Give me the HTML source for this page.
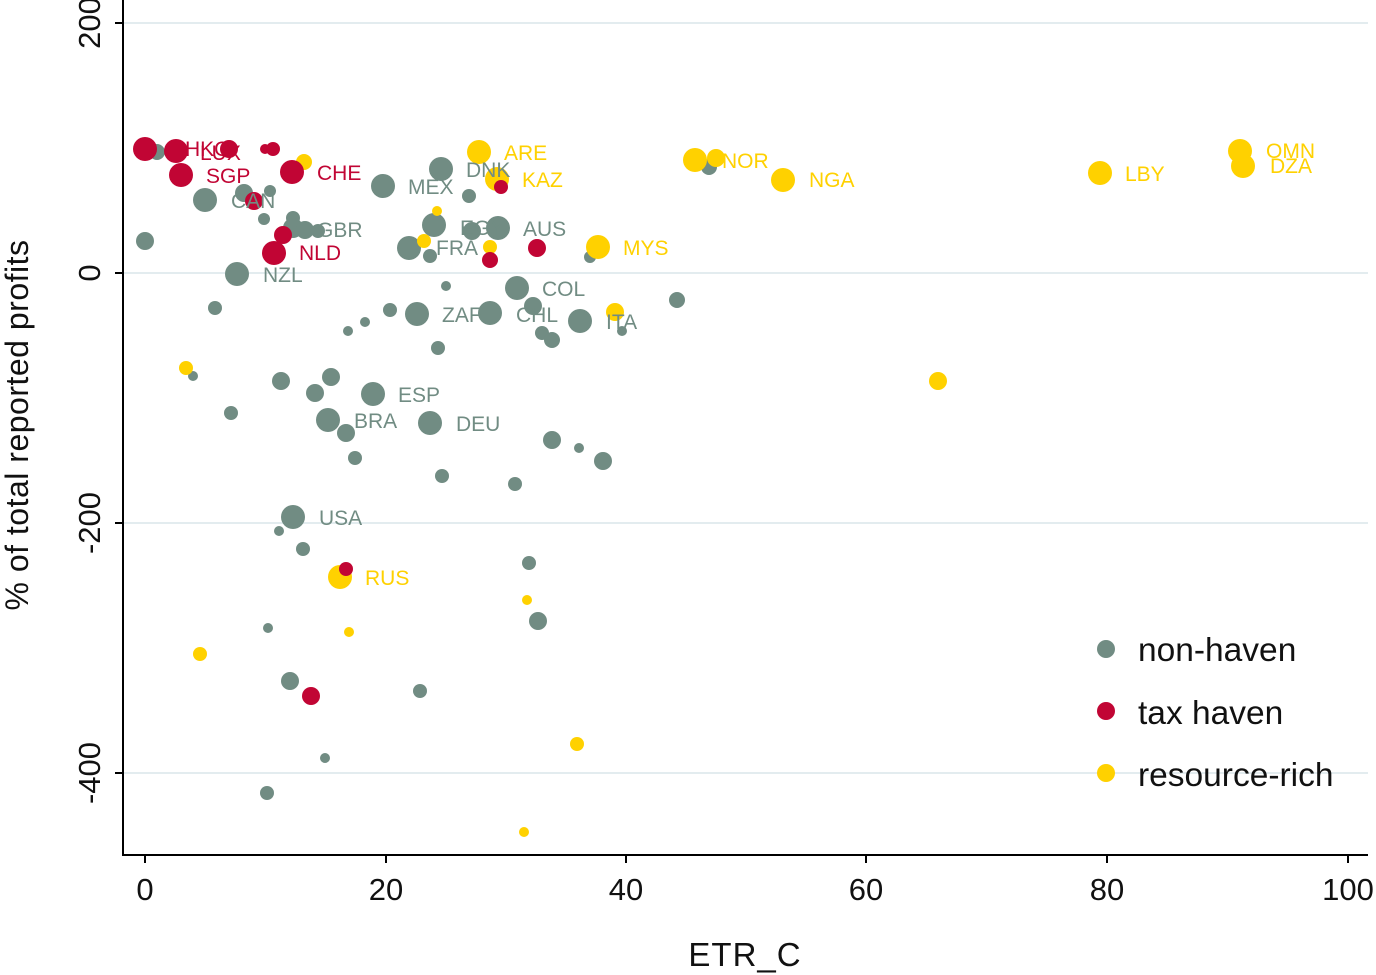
<!DOCTYPE html><html><head><style>body{margin:0;background:#fff}svg{display:block;font-family:"Liberation Sans",Arial,sans-serif}</style></head><body>
<svg width="1376" height="975" viewBox="0 0 1376 975" xmlns="http://www.w3.org/2000/svg">
<g stroke="#e3ecef" stroke-width="2"><line x1="124" y1="23" x2="1368" y2="23"/><line x1="124" y1="273" x2="1368" y2="273"/><line x1="124" y1="523" x2="1368" y2="523"/><line x1="124" y1="773" x2="1368" y2="773"/></g>
<g stroke="#000" stroke-width="2"><line x1="123" y1="0" x2="123" y2="856"/><line x1="122" y1="855" x2="1368" y2="855"/>
<line x1="115" y1="23" x2="123" y2="23"/><line x1="115" y1="273" x2="123" y2="273"/><line x1="115" y1="523" x2="123" y2="523"/><line x1="115" y1="773" x2="123" y2="773"/>
<line x1="145" y1="855" x2="145" y2="863"/><line x1="386" y1="855" x2="386" y2="863"/><line x1="626" y1="855" x2="626" y2="863"/><line x1="866" y1="855" x2="866" y2="863"/><line x1="1107" y1="855" x2="1107" y2="863"/><line x1="1348" y1="855" x2="1348" y2="863"/></g>
<g font-size="31" text-anchor="middle" fill="#111"><text x="145" y="900">0</text><text x="386" y="900">20</text><text x="626" y="900">40</text><text x="866" y="900">60</text><text x="1107" y="900">80</text><text x="1348" y="900">100</text>
<text transform="translate(100,23) rotate(-90)">200</text><text transform="translate(100,273) rotate(-90)">0</text><text transform="translate(100,523) rotate(-90)">-200</text><text transform="translate(100,773) rotate(-90)">-400</text>
<text x="745" y="966" font-size="33" letter-spacing="1">ETR_C</text><text transform="translate(28,425) rotate(-90)" font-size="32" letter-spacing="0.5">% of total reported profits</text></g>
<g fill="#718c83">
<circle cx="157" cy="152" r="8"/><circle cx="244" cy="193" r="9"/><circle cx="205" cy="200" r="12"/><circle cx="270" cy="191" r="6"/><circle cx="264" cy="219" r="6"/><circle cx="293" cy="218" r="7"/><circle cx="145" cy="241" r="9"/><circle cx="293" cy="228" r="10"/><circle cx="305" cy="230" r="9"/><circle cx="318" cy="231" r="7"/><circle cx="237" cy="274" r="12"/><circle cx="215" cy="308" r="7"/><circle cx="383" cy="186" r="12"/><circle cx="441" cy="169" r="12"/><circle cx="469" cy="196" r="7"/><circle cx="434" cy="225" r="12"/><circle cx="472" cy="231" r="9"/><circle cx="498" cy="228" r="12"/><circle cx="409" cy="248" r="12"/><circle cx="430" cy="256" r="7"/><circle cx="446" cy="286" r="5"/><circle cx="517" cy="288" r="12"/><circle cx="390" cy="310" r="7"/><circle cx="417" cy="314" r="12"/><circle cx="490" cy="313" r="12"/><circle cx="533" cy="306" r="9"/><circle cx="365" cy="322" r="5"/><circle cx="348" cy="331" r="5"/><circle cx="542" cy="333" r="7"/><circle cx="552" cy="340" r="8"/><circle cx="580" cy="321" r="12"/><circle cx="622" cy="331" r="5"/><circle cx="438" cy="348" r="7"/><circle cx="677" cy="300" r="8"/><circle cx="590" cy="257" r="6"/><circle cx="709" cy="167" r="8"/><circle cx="193" cy="376" r="5"/><circle cx="281" cy="381" r="9"/><circle cx="331" cy="377" r="9"/><circle cx="315" cy="393" r="9"/><circle cx="373" cy="394" r="12"/><circle cx="231" cy="413" r="7"/><circle cx="328" cy="420" r="12"/><circle cx="346" cy="433" r="9"/><circle cx="430" cy="423" r="12"/><circle cx="355" cy="458" r="7"/><circle cx="552" cy="440" r="9"/><circle cx="579" cy="448" r="5"/><circle cx="603" cy="461" r="9"/><circle cx="442" cy="476" r="7"/><circle cx="515" cy="484" r="7"/><circle cx="293" cy="517" r="12"/><circle cx="279" cy="531" r="5"/><circle cx="303" cy="549" r="7"/><circle cx="529" cy="563" r="7"/><circle cx="268" cy="628" r="5"/><circle cx="538" cy="621" r="9"/><circle cx="290" cy="681" r="9"/><circle cx="420" cy="691" r="7"/><circle cx="325" cy="758" r="5"/><circle cx="267" cy="793" r="7"/>
<circle cx="1106" cy="649" r="9"/></g>
<g fill="#ffd100">
<circle cx="479" cy="152" r="12"/><circle cx="497" cy="179" r="12"/><circle cx="304" cy="162" r="8"/><circle cx="287" cy="170" r="6"/><circle cx="437" cy="211" r="5"/><circle cx="424" cy="241" r="7"/><circle cx="490" cy="247" r="7"/><circle cx="598" cy="247" r="12"/><circle cx="695" cy="160" r="12"/><circle cx="716" cy="158" r="9"/><circle cx="783" cy="180" r="12"/><circle cx="1100" cy="173" r="12"/><circle cx="1240" cy="151" r="12"/><circle cx="1243" cy="166" r="12"/><circle cx="615" cy="312" r="9"/><circle cx="186" cy="368" r="7"/><circle cx="938" cy="381" r="9"/><circle cx="340" cy="577" r="12"/><circle cx="527" cy="600" r="5"/><circle cx="349" cy="632" r="5"/><circle cx="200" cy="654" r="7"/><circle cx="577" cy="744" r="7"/><circle cx="524" cy="832" r="5"/>
<circle cx="1106" cy="773" r="9"/></g>
<g fill="#c10534">
<circle cx="145" cy="149" r="12"/><circle cx="176" cy="151" r="12"/><circle cx="181" cy="175" r="12"/><circle cx="229" cy="149" r="9"/><circle cx="265" cy="149" r="5"/><circle cx="273" cy="149" r="7"/><circle cx="292" cy="172" r="12"/><circle cx="254" cy="201" r="9"/><circle cx="283" cy="235" r="9"/><circle cx="274" cy="253" r="12"/><circle cx="501" cy="187" r="7"/><circle cx="490" cy="260" r="8"/><circle cx="537" cy="248" r="9"/><circle cx="346" cy="569" r="7"/><circle cx="311" cy="696" r="9"/>
<circle cx="1106" cy="711" r="9"/></g>
<g font-size="21" fill="#718c83"><text x="408" y="194">MEX</text><text x="466" y="177">DNK</text><text x="317" y="237">GBR</text><text x="231" y="208">CAN</text><text x="263" y="282">NZL</text><text x="460" y="235">EGY</text><text x="436" y="255">FRA</text><text x="523" y="236">AUS</text><text x="542" y="296">COL</text><text x="442" y="322">ZAF</text><text x="516" y="322">CHL</text><text x="606" y="329">ITA</text><text x="398" y="402">ESP</text><text x="354" y="428">BRA</text><text x="456" y="431">DEU</text><text x="319" y="525">USA</text></g>
<g font-size="21" fill="#c10534"><text x="185" y="156">HKG</text><text x="200" y="160">LUX</text><text x="206" y="183">SGP</text><text x="317" y="180">CHE</text><text x="299" y="260">NLD</text></g>
<g font-size="21" fill="#ffd100"><text x="504" y="160">ARE</text><text x="522" y="187">KAZ</text><text x="722" y="168">NOR</text><text x="809" y="187">NGA</text><text x="1125" y="181">LBY</text><text x="1266" y="158">OMN</text><text x="1270" y="173">DZA</text><text x="623" y="255">MYS</text><text x="365" y="585">RUS</text></g>
<g font-size="33.5" fill="#111"><text x="1138" y="661">non-haven</text><text x="1138" y="724">tax haven</text><text x="1138" y="786">resource-rich</text></g>
</svg></body></html>
